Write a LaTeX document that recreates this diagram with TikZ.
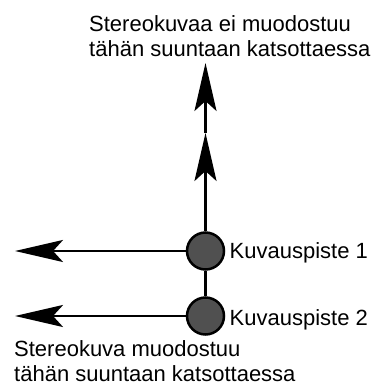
\documentclass[tikz,border=0pt]{standalone}
\usepackage{fontspec}
\setmainfont{Liberation Sans}
\usetikzlibrary{arrows.meta}
\definecolor{pointfill}{RGB}{80,80,80}
\tikzset{
  ray/.style={line width=2.5pt, -{Stealth[length=48pt, width=22pt, inset=10pt]}},
  campoint/.style={circle, draw, line width=2.5pt, fill=pointfill, minimum size=37pt, inner sep=0pt},
  caption/.style={font=\fontsize{22}{25}\selectfont, inner sep=0pt, align=left},
}
\begin{document}
\begin{tikzpicture}[x=1pt, y=-1pt]
  \useasboundingbox (0,0) rectangle (376,385);
  % viewing directions
  \coordinate (upmid) at (205.5,133);
  \coordinate (uptop) at (205.5,63);
  \coordinate (left1) at (15,251);
  \coordinate (left2) at (15,316);
  % camera positions
  \node[campoint] (p1) at (205.5,251) {};
  \node[campoint] (p2) at (205.5,316) {};
  \draw[line width=2.5pt] (p1) -- (p2);
  \draw[ray] (p1) -- (upmid);
  \draw[ray] (upmid) -- (uptop);
  \draw[ray] (p1) -- (left1);
  \draw[ray] (p2) -- (left2);
  % labels (base anchor sits on the last line)
  \node[caption, anchor=base west] (l1) at (229.5,258) {Kuvauspiste 1};
  \node[caption, anchor=base west] (l2) at (229.5,325) {Kuvauspiste 2};
  \node[caption, anchor=base west] (top) at (89,57) {Stereokuvaa ei muodostuu\\tähän suuntaan katsottaessa};
  \node[caption, anchor=base west] (bottom) at (14,381.5) {Stereokuva muodostuu\\tähän suuntaan katsottaessa};
\end{tikzpicture}
\end{document}
